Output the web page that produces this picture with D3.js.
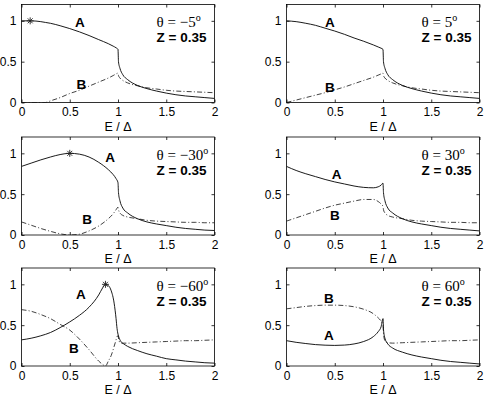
<!DOCTYPE html>
<html>
<head>
<meta charset="utf-8">
<script src="https://cdn.jsdelivr.net/npm/d3@7"></script>
<style>
  body { margin: 0; background: #fff; }
  svg text { fill: #000; }
</style>
</head>
<body>
<div id="wrapper"></div>
<script>
// 1 - data, one set of arrays per panel
// theta = -5
const e1 = [0, 0.1, 0.2, 0.25, 0.3, 0.4, 0.5, 0.6, 0.7, 0.8, 0.9, 0.95, 0.98, 1.0, 1.005, 1.02, 1.05, 1.1, 1.2, 1.3, 1.4, 1.5, 1.6, 1.7, 1.8, 1.9, 2.0];
const a1 = [1.0, 1.0, 0.99, 0.98, 0.97, 0.94, 0.905, 0.865, 0.82, 0.77, 0.72, 0.69, 0.67, 0.65, 0.50, 0.42, 0.34, 0.28, 0.21, 0.17, 0.14, 0.115, 0.095, 0.08, 0.07, 0.06, 0.05];
const b1 = [0, 0, 0, 0, 0.02, 0.06, 0.11, 0.15, 0.20, 0.25, 0.30, 0.33, 0.35, 0.36, 0.33, 0.30, 0.27, 0.24, 0.205, 0.18, 0.165, 0.15, 0.14, 0.135, 0.13, 0.125, 0.12];
// theta = 5
const e2 = [0, 0.1, 0.2, 0.3, 0.4, 0.5, 0.6, 0.7, 0.8, 0.9, 0.95, 0.98, 1.0, 1.005, 1.02, 1.05, 1.1, 1.2, 1.3, 1.4, 1.5, 1.6, 1.7, 1.8, 1.9, 2.0];
const a2 = [1.0, 0.99, 0.97, 0.945, 0.91, 0.875, 0.835, 0.79, 0.75, 0.705, 0.68, 0.665, 0.65, 0.50, 0.42, 0.34, 0.28, 0.21, 0.17, 0.14, 0.115, 0.095, 0.08, 0.07, 0.06, 0.05];
const b2 = [0, 0.03, 0.06, 0.09, 0.12, 0.155, 0.19, 0.23, 0.27, 0.31, 0.335, 0.35, 0.36, 0.33, 0.30, 0.27, 0.24, 0.205, 0.18, 0.165, 0.15, 0.14, 0.135, 0.13, 0.125, 0.12];
// theta = -30
const e3 = [0, 0.1, 0.2, 0.3, 0.4, 0.5, 0.6, 0.7, 0.8, 0.9, 0.95, 0.98, 1.0, 1.005, 1.02, 1.05, 1.1, 1.2, 1.3, 1.4, 1.5, 1.6, 1.7, 1.8, 1.9, 2.0];
const a3 = [0.84, 0.88, 0.92, 0.955, 0.985, 1.0, 0.99, 0.955, 0.89, 0.80, 0.74, 0.69, 0.64, 0.52, 0.42, 0.33, 0.27, 0.20, 0.16, 0.135, 0.115, 0.095, 0.08, 0.07, 0.06, 0.055];
const b3 = [0.16, 0.12, 0.08, 0.045, 0.015, 0.0, 0.01, 0.05, 0.11, 0.20, 0.26, 0.31, 0.34, 0.31, 0.27, 0.24, 0.22, 0.20, 0.18, 0.17, 0.165, 0.16, 0.155, 0.155, 0.15, 0.15];
// theta = 30
const e4 = [0, 0.1, 0.2, 0.3, 0.4, 0.5, 0.6, 0.7, 0.8, 0.9, 0.95, 0.98, 1.0, 1.005, 1.02, 1.05, 1.1, 1.2, 1.3, 1.4, 1.5, 1.6, 1.7, 1.8, 1.9, 2.0];
const a4 = [0.84, 0.79, 0.75, 0.715, 0.68, 0.65, 0.625, 0.60, 0.583, 0.578, 0.59, 0.61, 0.635, 0.52, 0.42, 0.33, 0.27, 0.20, 0.16, 0.135, 0.115, 0.095, 0.08, 0.07, 0.06, 0.05];
const b4 = [0.17, 0.21, 0.25, 0.29, 0.33, 0.365, 0.39, 0.415, 0.435, 0.435, 0.41, 0.38, 0.35, 0.31, 0.27, 0.24, 0.22, 0.20, 0.18, 0.17, 0.165, 0.16, 0.155, 0.155, 0.15, 0.15];
// theta = -60
const e5 = [0, 0.1, 0.2, 0.3, 0.4, 0.5, 0.6, 0.7, 0.8, 0.84, 0.87, 0.9, 0.93, 0.96, 0.98, 0.99, 1.0, 1.01, 1.03, 1.06, 1.1, 1.2, 1.3, 1.4, 1.5, 1.6, 1.7, 1.8, 1.9, 2.0];
const a5 = [0.32, 0.34, 0.37, 0.41, 0.47, 0.54, 0.62, 0.72, 0.87, 0.955, 1.0, 0.985, 0.92, 0.77, 0.58, 0.46, 0.39, 0.35, 0.30, 0.27, 0.24, 0.19, 0.15, 0.12, 0.09, 0.075, 0.06, 0.05, 0.04, 0.035];
const b5 = [0.69, 0.67, 0.63, 0.58, 0.51, 0.44, 0.33, 0.20, 0.06, 0.02, 0.0, 0.06, 0.13, 0.24, 0.32, 0.36, 0.37, 0.31, 0.28, 0.28, 0.28, 0.285, 0.29, 0.295, 0.30, 0.305, 0.31, 0.31, 0.315, 0.32];
// theta = 60
const e6 = [0, 0.1, 0.2, 0.3, 0.4, 0.5, 0.6, 0.7, 0.8, 0.9, 0.95, 0.98, 1.0, 1.005, 1.02, 1.05, 1.1, 1.2, 1.3, 1.4, 1.5, 1.6, 1.7, 1.8, 1.9, 2.0];
const a6 = [0.31, 0.29, 0.275, 0.262, 0.255, 0.252, 0.256, 0.27, 0.30, 0.36, 0.42, 0.48, 0.58, 0.45, 0.34, 0.27, 0.22, 0.17, 0.135, 0.11, 0.09, 0.07, 0.055, 0.045, 0.035, 0.025];
const b6 = [0.70, 0.715, 0.73, 0.74, 0.745, 0.745, 0.74, 0.725, 0.695, 0.64, 0.59, 0.55, 0.50, 0.40, 0.31, 0.285, 0.28, 0.285, 0.29, 0.295, 0.30, 0.305, 0.31, 0.31, 0.315, 0.32];

// markers (*) on curve A
const starE = [0.09, null, 0.5, null, 0.87, null];
const starA = [1.0, null, 1.0, null, 1.0, null];

const thetaValues = ['\u22125', '5', '\u221230', '30', '\u221260', '60'];
const zText = 'Z = 0.35';
const xTicks = [0, 0.5, 1, 1.5, 2];
const yTicks = [0, 0.5, 1];
const xLabel = 'E / \u0394';

// 2 - dimensions
const dimensions = {
  width: 488,
  height: 399,
  colLeft: [21.5, 286.5],
  rowTop: [4.5, 137, 268],
  plotW: 193,
  plotH: 98
};

const svg = d3.select('#wrapper').append('svg')
  .attr('width', dimensions.width)
  .attr('height', dimensions.height)
  .style('font-family', '"Liberation Sans", Arial, sans-serif');

const xScale = d3.scaleLinear().domain([0, 2]).range([0, dimensions.plotW]);
const yScale = d3.scaleLinear().domain([0, 1.2]).range([dimensions.plotH, 0]);

const panels = [
  { e: e1, a: a1, b: b1, labA: [0.605, 0.92], labB: [0.62, 0.163] },
  { e: e2, a: a2, b: b2, labA: [0.45, 0.927], labB: [0.45, 0.134] },
  { e: e3, a: a3, b: b3, labA: [0.918, 0.896], labB: [0.68, 0.136] },
  { e: e4, a: a4, b: b4, labA: [0.52, 0.684], labB: [0.5, 0.184] },
  { e: e5, a: a5, b: b5, labA: [0.616, 0.817], labB: [0.543, 0.163] },
  { e: e6, a: a6, b: b6, labA: [0.44, 0.317], labB: [0.44, 0.776] }
];

panels.forEach((p, i) => drawPanel(p, i));

function drawPanel(p, i) {
  const col = i % 2, row = Math.floor(i / 2);
  const bounds = svg.append('g')
    .attr('transform', `translate(${dimensions.colLeft[col]},${dimensions.rowTop[row]})`);

  // clip to the axes box
  bounds.append('clipPath').attr('id', 'clip' + i)
    .append('rect').attr('width', dimensions.plotW).attr('height', dimensions.plotH);

  const lineGen = d3.line()
    .curve(d3.curveMonotoneX)
    .x(d => xScale(d[0]))
    .y(d => yScale(d[1]));

  const ptsA = p.e.map((e, k) => [e, p.a[k]]);
  const ptsB = p.e.map((e, k) => [e, p.b[k]]);

  const curves = bounds.append('g').attr('clip-path', `url(#clip${i})`);
  curves.append('path')
    .attr('d', lineGen(ptsB))
    .attr('fill', 'none')
    .attr('stroke', '#111')
    .attr('stroke-width', 0.8)
    .attr('stroke-dasharray', '5,2.2,1,2.2');
  curves.append('path')
    .attr('d', lineGen(ptsA))
    .attr('fill', 'none')
    .attr('stroke', '#000')
    .attr('stroke-width', 0.9);

  // star marker
  if (starE[i] !== null) {
    const sx = xScale(starE[i]), sy = yScale(starA[i]), r = 3.5;
    const star = bounds.append('g').attr('transform', `translate(${sx},${sy})`)
      .attr('stroke', '#222').attr('stroke-width', 0.9);
    [0, 45, 90, 135].forEach(ang => {
      const rad = ang * Math.PI / 180;
      star.append('line')
        .attr('x1', -r * Math.cos(rad)).attr('y1', -r * Math.sin(rad))
        .attr('x2', r * Math.cos(rad)).attr('y2', r * Math.sin(rad));
    });
  }

  // box
  bounds.append('rect')
    .attr('width', dimensions.plotW)
    .attr('height', dimensions.plotH)
    .attr('fill', 'none')
    .attr('stroke', '#000')
    .attr('stroke-width', 0.8);

  // axes, ticks inward on all four sides
  const tick = 3;
  bounds.append('g')
    .attr('transform', `translate(0,${dimensions.plotH})`)
    .call(d3.axisBottom(xScale).tickValues(xTicks).tickSize(-tick).tickPadding(tick + 2).tickFormat(d3.format('')))
    .call(g => g.select('.domain').remove());
  bounds.append('g')
    .call(d3.axisTop(xScale).tickValues(xTicks).tickSize(-tick).tickFormat(''))
    .call(g => g.select('.domain').remove());
  bounds.append('g')
    .call(d3.axisLeft(yScale).tickValues(yTicks).tickSize(-tick).tickPadding(tick + 2).tickFormat(d3.format('')))
    .call(g => g.select('.domain').remove());
  bounds.append('g')
    .attr('transform', `translate(${dimensions.plotW},0)`)
    .call(d3.axisRight(yScale).tickValues(yTicks).tickSize(-tick).tickFormat(''))
    .call(g => g.select('.domain').remove());

  bounds.selectAll('.tick line').attr('stroke', '#000').attr('stroke-width', 0.8);
  bounds.selectAll('.tick text')
    .attr('font-size', 12)
    .attr('font-family', '"Liberation Sans", Arial, sans-serif')
    .attr('fill', '#000');

  // x label
  bounds.append('text')
    .attr('x', dimensions.plotW / 2)
    .attr('y', dimensions.plotH + 28)
    .attr('text-anchor', 'middle')
    .attr('font-size', 12.5)
    .text(xLabel);

  // curve labels
  bounds.append('text')
    .attr('x', xScale(p.labA[0])).attr('y', yScale(p.labA[1]))
    .attr('text-anchor', 'middle').attr('font-size', 13.5).attr('font-weight', 'bold')
    .text('A');
  bounds.append('text')
    .attr('x', xScale(p.labB[0])).attr('y', yScale(p.labB[1]))
    .attr('text-anchor', 'middle').attr('font-size', 13.5).attr('font-weight', 'bold')
    .text('B');

  // theta and Z annotations
  const tx = xScale(1.4);
  const th = bounds.append('text')
    .attr('x', tx).attr('y', 22.5)
    .attr('font-family', '"Liberation Serif", "Times New Roman", serif')
    .attr('font-size', 15);
  th.append('tspan').text('\u03B8 = ' + thetaValues[i]);
  th.append('tspan').attr('dy', -6).attr('font-size', 10).text('o');

  bounds.append('text')
    .attr('x', tx).attr('y', 37.5)
    .attr('font-size', 13.5).attr('font-weight', 'bold')
    .text(zText);
}
</script>
</body>
</html>
